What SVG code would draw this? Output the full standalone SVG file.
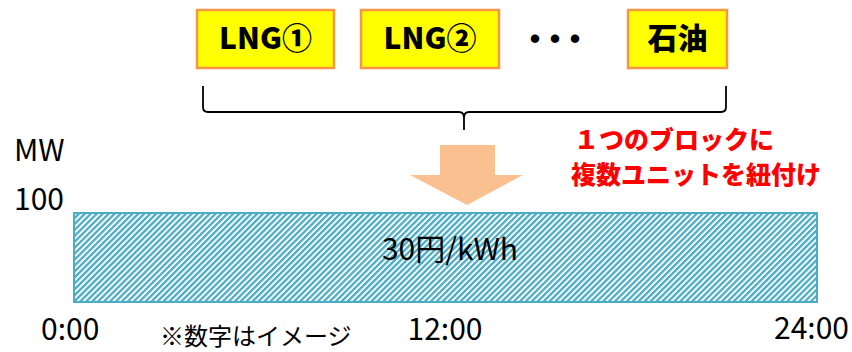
<svg xmlns="http://www.w3.org/2000/svg" width="852" height="352" viewBox="0 0 852 352">
<style>
.box{fill:#FFFF00;stroke:#F79646;stroke-width:2.5}
.bl{font-family:"Noto Sans CJK JP","Liberation Sans",sans-serif;font-weight:900;font-size:30px;fill:#000;text-anchor:middle}
.lab{font-family:"Noto Sans CJK JP","Liberation Sans",sans-serif;font-size:30px;fill:#000}
.red{font-family:"Noto Sans CJK JP","Liberation Sans",sans-serif;font-weight:900;font-size:25px;fill:#FF0000}
.note{font-family:"Noto Sans CJK JP","Liberation Sans",sans-serif;font-size:24px;fill:#000}
</style>
<defs>
<pattern id="hatch" width="4.2" height="4.2" patternUnits="userSpaceOnUse" patternTransform="rotate(45)">
<rect width="4.2" height="4.2" fill="#FFFFFF"/>
<rect width="2.3" height="4.2" fill="#4BACC6"/>
</pattern>
</defs>
<rect width="852" height="352" fill="#FFFFFF"/>
<g id="lng1">
<rect class="box" x="197" y="10" width="137" height="58"/>
<text class="bl" x="265.5" y="49">LNG①</text>
</g>
<g id="lng2">
<rect class="box" x="361" y="10" width="138" height="58"/>
<text class="bl" x="430" y="49">LNG②</text>
</g>
<g id="dots">
<text class="bl" x="550" y="50" font-size="27" letter-spacing="-10">・・・</text>
</g>
<g id="oil">
<rect class="box" x="628" y="10" width="99" height="58"/>
<text class="bl" x="677.5" y="49" font-size="28">石油</text>
</g>
<g id="connectors">
<path d="M203,86 V107 Q203,112 208,112 H459 Q464,112 464,118 V130 M464,118 Q464,112 469,112 H721 Q726,112 726,107 V86" fill="none" stroke="#000" stroke-width="1.8"/>
<polygon points="440,145 495,145 495,175 523,175 467,205 410,175 440,175" fill="#FAC090"/>
</g>
<g id="note-red">
<text class="red" x="574" y="149">１つのブロックに</text>
<text class="red" x="571" y="184">複数ユニットを紐付け</text>
</g>
<g id="block">
<rect x="74" y="213" width="743" height="89" fill="url(#hatch)" stroke="#4BACC6" stroke-width="2"/>
<text class="lab" x="450" y="260" font-size="28" text-anchor="middle">30円/kWh</text>
</g>
<g id="axis">
<text class="lab" x="14" y="161">MW</text>
<text class="lab" x="14" y="210">100</text>
<text class="lab" x="41" y="340" font-size="31">0:00</text>
<text class="lab" x="445" y="340" font-size="31" text-anchor="middle">12:00</text>
<text class="lab" x="849" y="339" font-size="31" text-anchor="end">24:00</text>
<text class="note" x="160" y="345">※数字はイメージ</text>
</g>
</svg>
